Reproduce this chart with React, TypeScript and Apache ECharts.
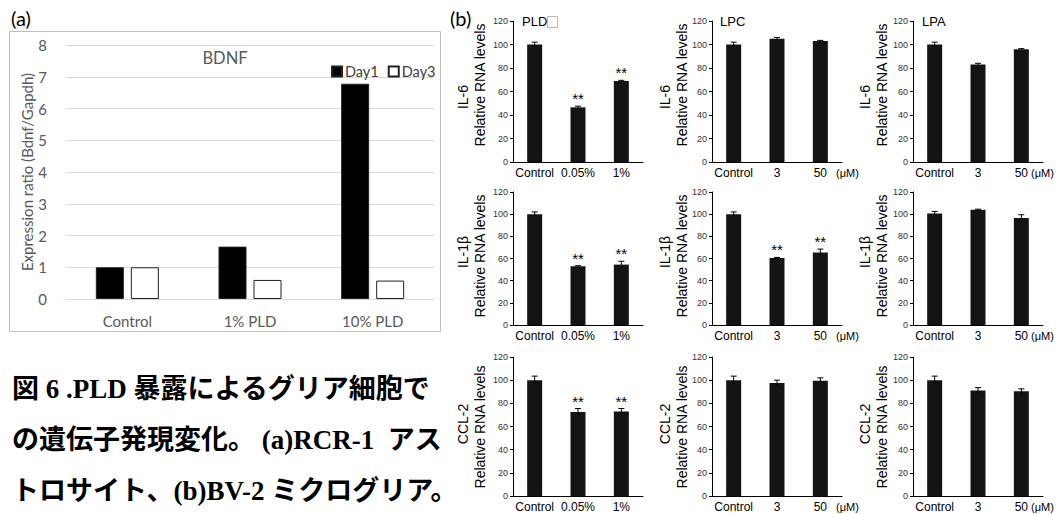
import React, { useEffect, useRef } from 'react';
import * as echarts from 'echarts';

// ---------- Panel (a) data ----------
const bdnfCategories = ['Control', '1% PLD', '10% PLD'];
const bdnfDay1 = [1.0, 1.65, 6.78];
const bdnfDay3 = [1.0, 0.6, 0.58];

// ---------- Panel (b) data ----------
const treatments = ['PLD', 'LPC', 'LPA'];
const genes = ['IL-6', 'IL-1β', 'CCL-2'];
const pldCategories = ['Control', '0.05%', '1%'];
const lipidCategories = ['Control', '3', '50'];

const il6Pld = [100, 46.5, 69];
const il6PldErr = [2, 1, 0.5];
const il6Lpc = [100, 105, 103];
const il6LpcErr = [2, 1, 0.5];
const il6Lpa = [100, 83, 96];
const il6LpaErr = [2, 1, 0.5];

const il1bPld = [100, 53, 54.5];
const il1bPldErr = [2, 0.5, 3];
const il1bLpc = [100, 60.5, 65.5];
const il1bLpcErr = [2, 0.5, 3];
const il1bLpa = [100.5, 104, 96.5];
const il1bLpaErr = [2, 0.5, 3];

const ccl2Pld = [100, 72.5, 73];
const ccl2PldErr = [3.5, 3, 2.5];
const ccl2Lpc = [100, 97.5, 99.5];
const ccl2LpcErr = [3.5, 2.5, 2.5];
const ccl2Lpa = [100, 91, 90.5];
const ccl2LpaErr = [3.5, 2.5, 2];

const il6PldStars = [false, true, true];
const il1bPldStars = [false, true, true];
const il1bLpcStars = [false, true, true];
const ccl2PldStars = [false, true, true];
const noStars = [false, false, false];

const panelValues = [
  [il6Pld, il6Lpc, il6Lpa],
  [il1bPld, il1bLpc, il1bLpa],
  [ccl2Pld, ccl2Lpc, ccl2Lpa],
];
const panelErrors = [
  [il6PldErr, il6LpcErr, il6LpaErr],
  [il1bPldErr, il1bLpcErr, il1bLpaErr],
  [ccl2PldErr, ccl2LpcErr, ccl2LpaErr],
];
const panelStars = [
  [il6PldStars, noStars, noStars],
  [il1bPldStars, il1bLpcStars, noStars],
  [ccl2PldStars, noStars, noStars],
];

const captionLines = [
  '図 6 .PLD 暴露によるグリア細胞で',
  'の遺伝子発現変化。 (a)RCR-1  アス',
  'トロサイト、(b)BV-2 ミクログリア。',
];

// ---------- layout ----------
const colLeft = [513, 712, 913];
const colWidth = 130;
const rowTop = [21, 192, 357];
const rowHeight = [141, 133, 139];
const geneY = [97, 252, 424];
const relY = [85, 256, 427];
const geneX = [463, 665, 865];
const relX = [480, 682, 882];
const titleX = [522, 720, 922];
const unitX = [0, 836, 1031];

const ARIAL = "'Liberation Sans', Arial, sans-serif";
const CAL = "Lato, 'Open Sans', sans-serif";

export default function App() {
  const ref = useRef<HTMLDivElement>(null);

  useEffect(() => {
    document.body.style.margin = '0';
    const chart = echarts.init(ref.current!, undefined, { renderer: 'svg' });

    const grids: any[] = [{ left: 66, top: 45, width: 368, height: 254 }];
    const xAxes: any[] = [
      {
        type: 'category',
        gridIndex: 0,
        data: bdnfCategories,
        axisLine: { lineStyle: { color: '#d9d9d9' } },
        axisTick: { show: false },
        axisLabel: { color: '#595959', fontSize: 15, fontFamily: CAL, margin: 14 },
      },
    ];
    const yAxes: any[] = [
      {
        type: 'value',
        gridIndex: 0,
        min: 0,
        max: 8,
        interval: 1,
        axisLine: { show: false },
        axisTick: { show: false },
        splitLine: { lineStyle: { color: '#d9d9d9' } },
        axisLabel: { color: '#595959', fontSize: 15, fontFamily: CAL, margin: 19 },
        name: 'Expression ratio (Bdnf/Gapdh)',
        nameLocation: 'middle',
        nameGap: 31,
        nameTextStyle: { color: '#595959', fontSize: 15, fontFamily: CAL },
      },
    ];
    const series: any[] = [
      {
        name: 'Day1',
        type: 'bar',
        xAxisIndex: 0,
        yAxisIndex: 0,
        data: bdnfDay1,
        barWidth: 28,
        barGap: '25%',
        itemStyle: { color: '#000', borderColor: '#222', borderWidth: 1 },
      },
      {
        name: 'Day3',
        type: 'bar',
        xAxisIndex: 0,
        yAxisIndex: 0,
        data: bdnfDay3,
        barWidth: 28,
        barGap: '25%',
        itemStyle: { color: '#fff', borderColor: '#222', borderWidth: 1 },
      },
    ];

    const graphics: any[] = [
      {
        type: 'rect',
        shape: { x: 9.5, y: 31.5, width: 431, height: 300 },
        style: { fill: 'none', stroke: '#bfbfbf', lineWidth: 1 },
        z: -1,
      },
      {
        type: 'text',
        x: 11,
        y: 18,
        style: { text: '(a)', fontSize: 20, fontFamily: CAL, fill: '#000', verticalAlign: 'middle' },
      },
      {
        type: 'text',
        x: 450,
        y: 18,
        style: { text: '(b)', fontSize: 20, fontFamily: CAL, fill: '#000', verticalAlign: 'middle' },
      },
      {
        type: 'text',
        x: 225,
        y: 58,
        style: { text: 'BDNF', fontSize: 16.5, fontFamily: CAL, fill: '#595959', align: 'center', verticalAlign: 'middle' },
      },
      {
        type: 'rect',
        shape: { x: 547.5, y: 16.5, width: 10, height: 11 },
        style: { fill: '#fff', stroke: '#bbb', lineWidth: 1 },
      },
    ];

    captionLines.forEach((line, i) => {
      graphics.push({
        type: 'text',
        x: 12,
        y: 389 + i * 51,
        style: {
          text: line,
          fontSize: 27,
          fontWeight: 'bold',
          fontFamily: "'Liberation Serif', 'Noto Sans CJK JP', serif",
          fill: '#000',
          verticalAlign: 'middle',
        },
      });
    });

    let gi = 1;
    for (let r = 0; r < 3; r++) {
      for (let c = 0; c < 3; c++) {
        const cats = c === 0 ? pldCategories : lipidCategories;
        const vals = panelValues[r][c];
        const errs = panelErrors[r][c];
        const stars = panelStars[r][c];
        grids.push({ left: colLeft[c], top: rowTop[r], width: colWidth, height: rowHeight[r] });
        xAxes.push({
          type: 'category',
          gridIndex: gi,
          data: cats,
          axisLine: { lineStyle: { color: '#000', width: 1 } },
          axisTick: { show: false },
          axisLabel: { color: '#000', fontSize: 12, fontFamily: ARIAL, margin: 5, interval: 0 },
        });
        yAxes.push({
          type: 'value',
          gridIndex: gi,
          min: 0,
          max: 120,
          interval: 20,
          axisLine: { show: true, lineStyle: { color: '#000', width: 1 } },
          axisTick: { show: true, length: 3, lineStyle: { color: '#000' } },
          splitLine: { show: false },
          axisLabel: { color: '#333', fontSize: 9, fontFamily: ARIAL, margin: 5 },
        });
        series.push({
          type: 'bar',
          xAxisIndex: gi,
          yAxisIndex: gi,
          data: vals,
          barWidth: 15,
          itemStyle: { color: '#141414' },
        });
        series.push({
          type: 'custom',
          xAxisIndex: gi,
          yAxisIndex: gi,
          z: 5,
          data: vals.map((v, j) => [j, v, errs[j]]),
          renderItem: (params: any, api: any) => {
            const x = api.value(0);
            const v = api.value(1);
            const e = api.value(2);
            const top = api.coord([x, v + e]);
            const bot = api.coord([x, v - e]);
            const hw = 3;
            return {
              type: 'group',
              children: [
                { type: 'line', shape: { x1: top[0], y1: top[1], x2: bot[0], y2: bot[1] }, style: { stroke: '#000', lineWidth: 1 } },
                { type: 'line', shape: { x1: top[0] - hw, y1: top[1], x2: top[0] + hw, y2: top[1] }, style: { stroke: '#000', lineWidth: 1 } },
              ],
            };
          },
        });
        const starData = vals
          .map((v, j) => [j, v + errs[j]])
          .filter((_, j) => stars[j]);
        if (starData.length) {
          series.push({
            type: 'custom',
            xAxisIndex: gi,
            yAxisIndex: gi,
            z: 6,
            data: starData,
            renderItem: (params: any, api: any) => {
              const p = api.coord([api.value(0), api.value(1)]);
              return {
                type: 'text',
                x: p[0],
                y: p[1],
                style: {
                  text: '**',
                  fontSize: 15,
                  fontFamily: ARIAL,
                  fill: '#000',
                  align: 'center',
                  verticalAlign: 'bottom',
                },
              };
            },
          });
        }

        graphics.push({
          type: 'text',
          x: geneX[c],
          y: geneY[r],
          rotation: Math.PI / 2,
          style: { text: genes[r], fontSize: 14, fontFamily: ARIAL, fill: '#000', align: 'center', verticalAlign: 'middle' },
        });
        graphics.push({
          type: 'text',
          x: relX[c],
          y: relY[r],
          rotation: Math.PI / 2,
          style: { text: 'Relative RNA levels', fontSize: 14, fontFamily: ARIAL, fill: '#000', align: 'center', verticalAlign: 'middle' },
        });
        if (c > 0) {
          graphics.push({
            type: 'text',
            x: unitX[c],
            y: rowTop[r] + rowHeight[r] + 11,
            style: { text: '(μM)', fontSize: 11, fontFamily: ARIAL, fill: '#000', verticalAlign: 'middle' },
          });
        }
        if (r === 0) {
          graphics.push({
            type: 'text',
            x: titleX[c],
            y: 21,
            style: { text: treatments[c], fontSize: 13, fontFamily: ARIAL, fill: '#000', verticalAlign: 'middle' },
          });
        }
        gi++;
      }
    }

    chart.setOption({
      animation: false,
      backgroundColor: '#fff',
      textStyle: { fontFamily: ARIAL },
      legend: {
        data: ['Day1', 'Day3'],
        left: 326,
        top: 59,
        icon: 'rect',
        itemWidth: 10,
        itemHeight: 10,
        itemGap: 9,
        textStyle: { color: '#404040', fontSize: 14.5, fontFamily: CAL, padding: [0, 0, 0, -2] },
      },
      grid: grids,
      xAxis: xAxes,
      yAxis: yAxes,
      series,
      graphic: graphics,
    });

    return () => chart.dispose();
  }, []);

  return <div ref={ref} style={{ position: 'fixed', left: 0, top: 0, width: 1056, height: 514 }} />;
}
